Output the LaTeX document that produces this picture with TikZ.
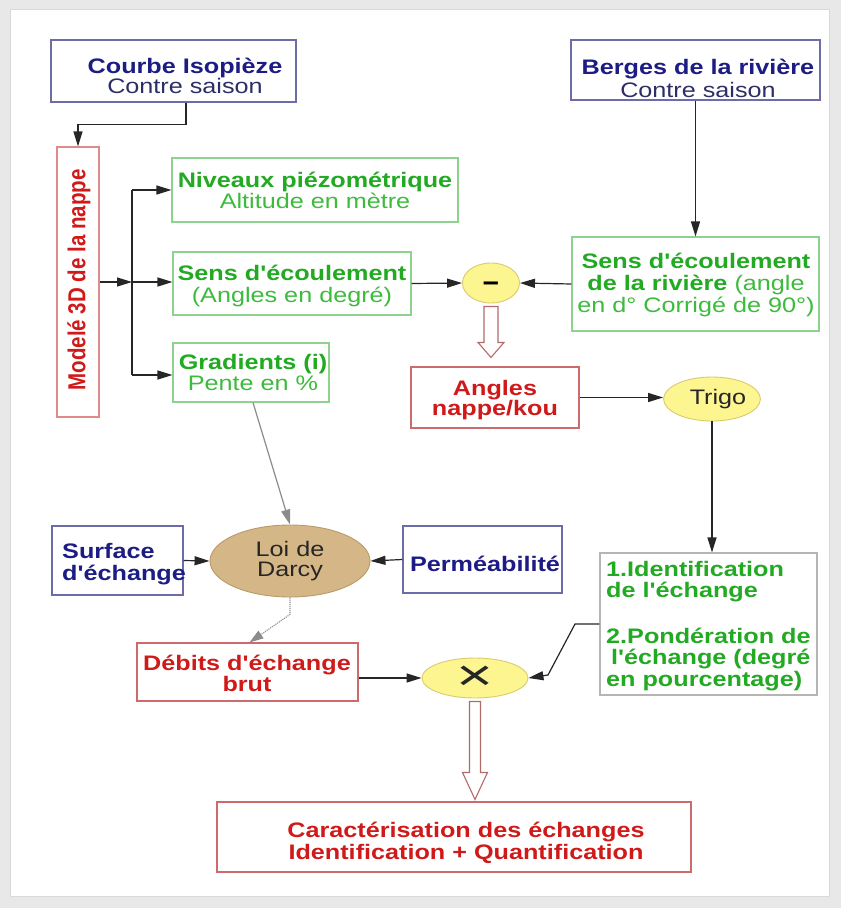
\documentclass[tikz,border=0pt]{standalone}
\usepackage{fontspec}
\setmainfont[FakeStretch=1.2, Ligatures=TeXOff]{Liberation Sans}
\newfontfamily\modfont{Liberation Sans}
\usetikzlibrary{arrows.meta,calc,shapes.geometric}
\definecolor{navytxt}{HTML}{1C1C84}
\definecolor{navytwo}{HTML}{2E2E66}
\definecolor{bluebd}{HTML}{6C6CA8}
\definecolor{greentxt}{HTML}{22AA22}
\definecolor{greenlt}{HTML}{3DBB3D}
\definecolor{greenbd}{HTML}{8ED28E}
\definecolor{redtxt}{HTML}{D01A1A}
\definecolor{redbd}{HTML}{CC6B6B}
\definecolor{redlt}{HTML}{E08A8A}
\definecolor{graybd}{HTML}{B5B5B5}
\definecolor{ellfill}{HTML}{FCF590}
\definecolor{ellbd}{HTML}{D9CB6E}
\definecolor{darcyfill}{HTML}{D5B686}
\definecolor{darcybd}{HTML}{B99A6A}
\definecolor{hollowbd}{HTML}{B56A6A}
\begin{document}
\begin{tikzpicture}[x=1pt,y=-1pt,
  box/.style={draw, line width=1.1pt, inner sep=0pt, fill=white},
  bluebox/.style={box, draw=bluebd},
  greenbox/.style={box, draw=greenbd},
  redbox/.style={box, draw=redbd},
  graybox/.style={box, draw=graybd},
  tx/.style={inner sep=0pt, align=center, anchor=base, font=\fontsize{21pt}{#1pt}\selectfont},
  tx/.default=21.5,
  txl/.style={tx=#1, align=left, anchor=base west},
  txl/.default=21.5,
  ell/.style={ellipse, draw=ellbd, fill=ellfill, line width=0.9pt, inner sep=0pt},
  arr/.style={draw=black!85, line width=1.2pt, -{Triangle[length=15pt,width=9pt]}},
  plain/.style={draw=black!85, line width=1.2pt},
  grayarr/.style={draw=black!45, line width=1.2pt, -{Triangle[length=15pt,width=9pt]}},
  dotarr/.style={draw=black!45, densely dotted, line width=1.1pt, -{Triangle[length=14pt,width=9pt]}},
  hollow/.style={draw=hollowbd, fill=white, line width=1.1pt, line join=miter}
]
\useasboundingbox (0,0) rectangle (841,908);
\fill[black!9] (0,0) rectangle (841,908);
\fill[white] (10,9) rectangle (829,896);
\draw[black!15, line width=0.8pt] (10,9) rectangle (829,896);

% boxes (text nodes anchored at the baseline of their last line)
\node[bluebox, minimum width=245pt, minimum height=62pt] (courbe) at (173.5,71) {};
\node[tx=20] (courbe-t) at (185,93) {\textcolor{navytxt}{\textbf{Courbe Isopièze}}\\\textcolor{navytwo}{Contre saison}};
\node[bluebox, minimum width=249pt, minimum height=60pt] (berges) at (695.5,70) {};
\node[tx=23] (berges-t) at (698,97) {\textcolor{navytxt}{\textbf{Berges de la rivière}}\\\textcolor{navytwo}{Contre saison}};
\node[box, draw=redlt, minimum width=42pt, minimum height=270pt] (modele) at (78,282) {};
\node[inner sep=0pt, rotate=90, text=redtxt] (modele-t) at (79,280) {\scalebox{1}[1.2]{\modfont\bfseries\fontsize{20.5pt}{22pt}\selectfont Modelé 3D de la nappe}};
\node[greenbox, minimum width=286pt, minimum height=64pt] (niveaux) at (315,190) {};
\node[tx=18.5] (niveaux-t) at (315,208.5) {\textcolor{greentxt}{\textbf{Niveaux piézométrique}}\\\textcolor{greenlt}{Altitude en mètre}};
\node[greenbox, minimum width=238pt, minimum height=63pt] (sens) at (292,283.5) {};
\node[tx=22] (sens-t) at (292,302) {\textcolor{greentxt}{\textbf{Sens d'écoulement}}\\\textcolor{greenlt}{(Angles en degré)}};
\node[greenbox, minimum width=156pt, minimum height=59pt] (grad) at (251,372.5) {};
\node[tx=21] (grad-t) at (253,390) {\textcolor{greentxt}{\textbf{Gradients (i)}}\\\textcolor{greenlt}{Pente en \%}};
\node[greenbox, minimum width=247pt, minimum height=94pt] (riv) at (695.5,284) {};
\node[tx=22] (riv-t) at (696,312) {\textcolor{greentxt}{\textbf{Sens d'écoulement}}\\\textcolor{greentxt}{\textbf{de la rivière}} \textcolor{greenlt}{(angle}\\\textcolor{greenlt}{en d° Corrigé de 90°)}};
\node[redbox, minimum width=168pt, minimum height=61pt] (angles) at (495,397.5) {};
\node[tx=20, text=redtxt] (angles-t) at (495,415) {\textbf{Angles}\\\textbf{nappe/kou}};
\node[bluebox, minimum width=131pt, minimum height=69pt] (surf) at (117.5,560.5) {};
\node[txl=22, text=navytxt] (surf-t) at (62,580) {\textbf{Surface}\\\textbf{d'échange}};
\node[bluebox, minimum width=159pt, minimum height=67pt] (perm) at (482.5,559.5) {};
\node[tx, text=navytxt] (perm-t) at (485,571) {\textbf{Perméabilité}};
\node[redbox, minimum width=221pt, minimum height=58pt] (debits) at (247.5,672) {};
\node[tx=21, text=redtxt] (debits-t) at (247,691) {\textbf{Débits d'échange}\\\textbf{brut}};
\node[graybox, minimum width=217pt, minimum height=142pt] (ident) at (708.5,624) {};
\node[txl=21.5, text=greentxt] (ident-t) at (606,686) {\textbf{1.Identification}\\\textbf{de l'échange}\\[24pt]\textbf{2.Pondération de}\\\textbf{\hspace*{5pt}l'échange (degré}\\\textbf{en pourcentage)}};
\node[redbox, minimum width=474pt, minimum height=70pt] (caract) at (454,837) {};
\node[tx=22, text=redtxt] (caract-t) at (466,859) {\textbf{Caractérisation des échanges}\\\textbf{Identification + Quantification}};

% ellipses
\node[ell, minimum width=57pt, minimum height=40pt, text height=16pt, text depth=0pt, font=\fontsize{30pt}{30pt}\selectfont\bfseries] (minus) at (491,283) {\scalebox{0.8}[1]{–}};
\node[ell, minimum width=90pt, minimum height=44pt, font=\fontsize{21pt}{22pt}\selectfont, text=black!85] (trigo) at (712,399) {\hspace*{12pt}Trigo};
\node[ell, draw=darcybd, fill=darcyfill, minimum width=160pt, minimum height=72pt, align=center, font=\fontsize{21pt}{20pt}\selectfont, text=black!85] (darcy) at (290,561) {Loi de\\Darcy};
\node[ell, minimum width=106pt, minimum height=40pt, font=\fontsize{44pt}{44pt}\selectfont, text=black!85] (times) at (475,678) {\scalebox{1.2}[1]{×}};

% connectors
\draw[arr] ([xshift=12.5pt]courbe.south) -- ++(0,22) -| (modele.north);
\coordinate (bus) at (132,282);
\coordinate (busT) at (132,190);
\coordinate (busB) at (132,375);
\draw[arr] (modele.east) -- (bus);
\draw[plain] (busT) -- (busB);
\draw[arr] (busT) -- (niveaux.west |- busT);
\draw[arr] (bus) -- (sens.west |- bus);
\draw[arr] (busB) -- (grad.west |- busB);
\draw[arr] (sens.east) -- (minus.west);
\draw[arr] (riv.west) -- (minus.east);
\draw[arr] (berges.south) -- (riv.north);
\draw[arr] (angles.east) -- (angles.east -| trigo.west);
\draw[arr] (trigo.south) -- (trigo.south |- ident.north);
\draw[grayarr] ([xshift=2pt]grad.south) -- (darcy.north);
\draw[arr] (surf.east) -- (darcy.west);
\draw[arr] (perm.west) -- (darcy.east);
\draw[dotarr] (darcy.south) -- ++(0,17) -- ([xshift=2pt]debits.north);
\draw[arr] (debits.east |- times) -- (times.west);
\coordinate (k1) at (575,624);
\coordinate (k2) at (548,675);
\draw[arr] (ident.west) -- (k1) -- (k2) -- (times.east);

% hollow arrows
\draw[hollow] let \p1=(minus.south), \p2=(angles.north) in
  (\x1-7pt,\y1-3pt) -- (\x1-7pt,\y2+24pt) -- (\x1-13pt,\y2+24pt) -- (\x1,\y2+9pt)
  -- (\x1+13pt,\y2+24pt) -- (\x1+7pt,\y2+24pt) -- (\x1+7pt,\y1-3pt) -- cycle;
\draw[hollow] let \p1=(times.south), \p2=(caract.north) in
  (\x1-5.5pt,\y1-3pt) -- (\x1-5.5pt,\y2+29pt) -- (\x1-12.5pt,\y2+29pt) -- (\x1,\y2+2pt)
  -- (\x1+12.5pt,\y2+29pt) -- (\x1+5.5pt,\y2+29pt) -- (\x1+5.5pt,\y1-3pt) -- cycle;
\end{tikzpicture}
\end{document}
